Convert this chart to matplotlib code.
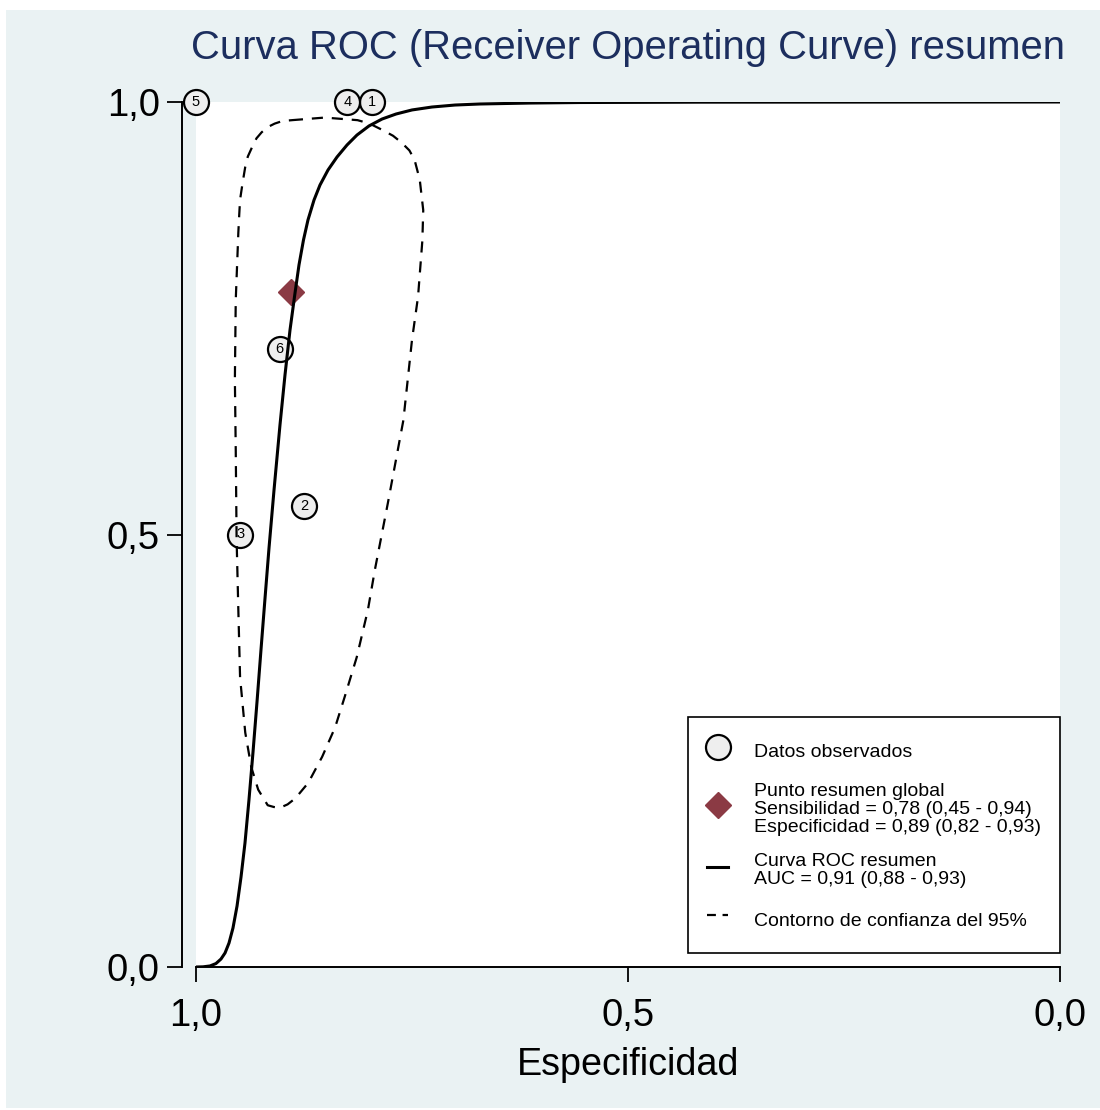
import matplotlib.pyplot as plt
from matplotlib.lines import Line2D
from matplotlib.patches import Rectangle

plt.rcParams['font.family'] = ['Liberation Sans', 'DejaVu Sans']

# observed studies (specificity, sensitivity)
study_ids = ['1', '2', '3', '4', '5', '6']
study_spec = [0.796, 0.875, 0.949, 0.825, 1.0, 0.903]
study_sens = [1.0, 0.533, 0.50, 1.0, 1.0, 0.714]

# global summary point
sum_spec = 0.89
sum_sens = 0.78

# summary ROC curve
roc_spec = [1.0, 0.9919, 0.9838, 0.9769, 0.9711, 0.9664, 0.9618, 0.9572, 0.9525, 0.9479,
            0.9433, 0.9387, 0.9340, 0.9294, 0.9248, 0.9201, 0.9155, 0.9097, 0.9028, 0.8970,
            0.8912, 0.8854, 0.8808, 0.8756, 0.8704, 0.8634, 0.8565, 0.8472, 0.8368, 0.8252,
            0.8137, 0.7998, 0.7847, 0.7685, 0.7500, 0.7269, 0.7002, 0.6713, 0.6134, 0.5556,
            0.4167, 0.0]
roc_sens = [0.0, 0.0002, 0.0012, 0.0040, 0.0092, 0.0162, 0.0277, 0.0451, 0.0705, 0.1040,
            0.1434, 0.1931, 0.2486, 0.3064, 0.3665, 0.4266, 0.4844, 0.5514, 0.6266, 0.6844,
            0.7364, 0.7792, 0.8116, 0.8405, 0.8636, 0.8867, 0.9040, 0.9214, 0.9364, 0.9503,
            0.9618, 0.9723, 0.9803, 0.9861, 0.9908, 0.9942, 0.9965, 0.9977, 0.9988, 0.9994,
            0.9998, 1.0]

# 95% confidence contour
cont_spec = [0.889, 0.851, 0.813, 0.799, 0.785, 0.772, 0.762, 0.753, 0.747, 0.741,
             0.737, 0.738, 0.743, 0.750, 0.760, 0.778, 0.793, 0.801, 0.814, 0.828,
             0.839, 0.854, 0.870, 0.885, 0.894, 0.903, 0.910, 0.917, 0.928, 0.936,
             0.943, 0.949, 0.951, 0.953, 0.954, 0.955, 0.954, 0.951, 0.950, 0.949,
             0.946, 0.943, 0.940, 0.935, 0.930, 0.924, 0.917, 0.909, 0.900, 0.889]
cont_sens = [0.979, 0.982, 0.979, 0.975, 0.968, 0.961, 0.953, 0.944, 0.933, 0.910,
             0.875, 0.840, 0.775, 0.725, 0.632, 0.536, 0.459, 0.413, 0.358, 0.312,
             0.277, 0.243, 0.213, 0.195, 0.188, 0.184, 0.185, 0.187, 0.205, 0.231,
             0.271, 0.335, 0.413, 0.494, 0.598, 0.679, 0.771, 0.849, 0.869, 0.887,
             0.907, 0.925, 0.937, 0.948, 0.958, 0.965, 0.971, 0.975, 0.978, 0.979]

ticks = [0.0, 0.5, 1.0]
tick_labels = ['0,0', '0,5', '1,0']

legend_labels = [
    'Datos observados',
    'Punto resumen global\nSensibilidad = 0,78 (0,45 - 0,94)\nEspecificidad = 0,89 (0,82 - 0,93)',
    'Curva ROC resumen\nAUC = 0,91 (0,88 - 0,93)',
    'Contorno de confianza del 95%',
]

bg = '#EAF2F3'
navy = '#1C2E5E'
maroon = '#8B3A44'
circle_fill = '#EEEEEE'
dash = (0, (5, 4))

fig = plt.figure(figsize=(11, 11.1), dpi=100)
fig.patch.set_facecolor('white')
fig.add_artist(Rectangle((0.0055, 0.002), 0.9945, 0.989, transform=fig.transFigure,
                         facecolor=bg, edgecolor='none', zorder=0))

ax = fig.add_axes([196 / 1100, 1 - 967 / 1110, 864 / 1100, 865 / 1110])
ax.set_facecolor('white')

# observed studies
ax.plot(study_spec, study_sens, ls='none', marker='o', ms=18, mfc=circle_fill,
        mec='black', mew=1.6, zorder=3, clip_on=False)
for sid, sx, sy in zip(study_ids, study_spec, study_sens):
    ax.text(sx, sy, sid, ha='center', va='center', fontsize=10.5, zorder=3.5)

# summary point
ax.plot(sum_spec, sum_sens, ls='none', marker='D', ms=13, color=maroon, zorder=3.6)

# curve and contour
ax.plot(roc_spec, roc_sens, color='black', lw=2.2, zorder=5)
ax.plot(cont_spec, cont_sens, color='black', lw=1.6, ls=dash, zorder=4)

ax.set_xlim(1.0, 0.0)
ax.set_ylim(0.0, 1.0)
ax.set_xticks(ticks)
ax.set_xticklabels(tick_labels)
ax.set_yticks(ticks)
ax.set_yticklabels(tick_labels)
ax.tick_params(axis='both', length=11, width=1.3, labelsize=27.5, color='black')
ax.tick_params(axis='x', pad=11)
ax.tick_params(axis='y', pad=5)

for side in ['top', 'right']:
    ax.spines[side].set_visible(False)
for side in ['left', 'bottom']:
    ax.spines[side].set_linewidth(1.4)
ax.spines['left'].set_position(('outward', 10))

ax.set_xlabel('Especificidad', fontsize=27.2, labelpad=10)
ax.set_title('Curva ROC (Receiver Operating Curve) resumen', fontsize=28.8, color=navy, pad=31)

handles = [
    Line2D([], [], ls='none', marker='o', ms=18, mfc=circle_fill, mec='black', mew=1.6),
    Line2D([], [], ls='none', marker='D', ms=13, color=maroon),
    Line2D([], [], color='black', lw=2.2),
    Line2D([], [], color='black', lw=1.6, ls=(0, (4, 3))),
]
leg = ax.legend(handles, legend_labels, loc='lower right', bbox_to_anchor=(1.0, 0.016),
                fontsize=14, frameon=True, fancybox=False, edgecolor='black', framealpha=1,
                borderpad=1.0, labelspacing=0.88, handlelength=1.08, handleheight=1.9,
                handletextpad=1.29, borderaxespad=0)
leg.get_frame().set_linewidth(1.2)
for t in leg.get_texts():
    t.set_linespacing(1.08)

fig.savefig('out.png', dpi=100, facecolor=fig.get_facecolor())
